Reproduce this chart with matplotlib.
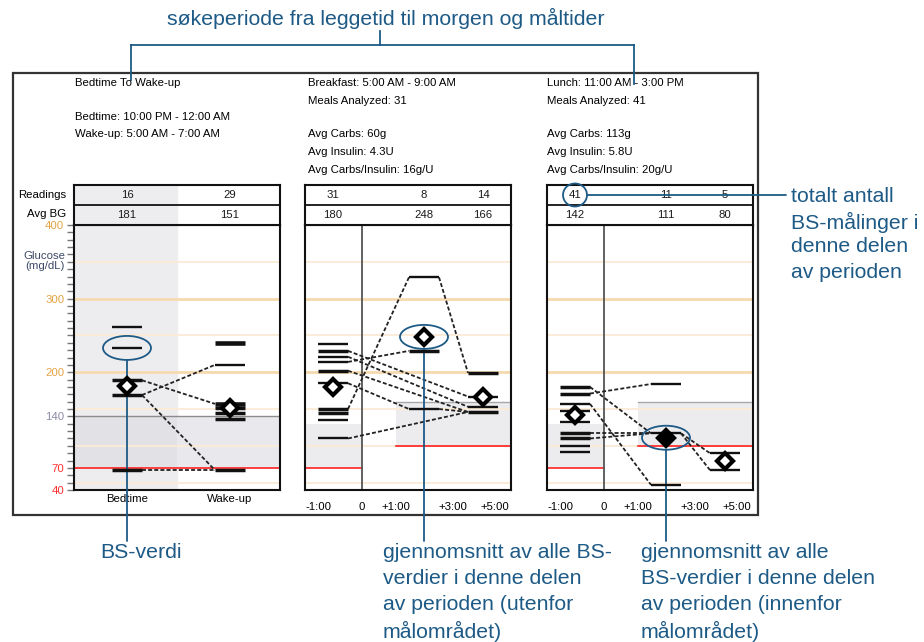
import numpy as np
import matplotlib.pyplot as plt
from matplotlib.patches import Ellipse, Rectangle

plt.rcParams['font.family'] = ['Liberation Sans', 'DejaVu Sans']

W, H = 924, 642
TEAL = '#1d5a86'
SMALL = 8.2

# ---------------- data ----------------
glu_ticks = [40, 70, 140, 200, 300, 400]
glu_tick_colors = ['#ff3030', '#ff3030', '#8a8aa8', '#e3a545', '#e3a545', '#e3a545']

bt_title = 'Bedtime To Wake-up'
bt_head = ['Bedtime: 10:00 PM - 12:00 AM', 'Wake-up: 5:00 AM - 7:00 AM']
bt_cols = ['Bedtime', 'Wake-up']
bt_readings = [16, 29]
bt_avg = [181, 151]
bt_bed = [261, 233, 189, 169, 67]
bt_bed_n = [1, 1, 2, 2, 2]
bt_wake = [240, 210, 157, 151, 145, 136, 67]
bt_wake_n = [3, 1, 3, 2, 2, 2, 2]
bt_links = [(0, 169, 1, 210), (0, 189, 1, 157), (0, 169, 1, 67), (0, 67, 1, 67)]

meal_ticks = ['-1:00', '0', '+1:00', '+3:00', '+5:00']

bk_head = ['Breakfast: 5:00 AM - 9:00 AM', 'Meals Analyzed: 31']
bk_stats = ['Avg Carbs: 60g', 'Avg Insulin: 4.3U', 'Avg Carbs/Insulin: 16g/U']
bk_readings = [31, 8, 14]
bk_avg = [180, 248, 166]
bk_pre = [238, 229, 221, 214, 202, 185, 150, 144, 135, 110]
bk_pre_n = [1, 2, 1, 1, 2, 1, 2, 2, 1, 1]
bk_p1 = [329, 229, 150]
bk_p1_n = [1, 2, 1]
bk_p2 = [199, 167, 153, 146]
bk_p2_n = [2, 1, 1, 2]
bk_links = [(0, 150, 1, 329), (1, 329, 2, 199), (0, 214, 1, 229), (0, 185, 1, 150),
            (1, 150, 2, 146), (0, 229, 2, 167), (0, 221, 2, 153), (0, 202, 2, 146),
            (0, 110, 2, 146)]

ln_head = ['Lunch: 11:00 AM - 3:00 PM', 'Meals Analyzed: 41']
ln_stats = ['Avg Carbs: 113g', 'Avg Insulin: 5.8U', 'Avg Carbs/Insulin: 20g/U']
ln_readings = [41, 11, 5]
ln_avg = [142, 111, 80]
ln_pre = [180, 171, 157, 147, 133, 117, 110, 100, 92]
ln_pre_n = [2, 2, 1, 1, 1, 2, 2, 1, 1]
ln_p1 = [184, 117, 47]
ln_p1_n = [1, 1, 1]
ln_p2 = [90, 67]
ln_p2_n = [1, 1]
ln_links = [(0, 180, 1, 117), (0, 171, 1, 184), (0, 157, 1, 47), (0, 117, 1, 117),
            (0, 110, 1, 117), (1, 117, 2, 90), (1, 117, 2, 67)]

# target ranges (low, high)
bt_target = (70, 140)
pre_target = (70, 130)
post_target = (100, 160)

title_txt = 'søkeperiode fra leggetid til morgen og måltider'
bs_txt = ['BS-verdi']
out_txt = ['gjennomsnitt av alle BS-', 'verdier i denne delen', 'av perioden (utenfor', 'målområdet)']
in_txt = ['gjennomsnitt av alle', 'BS-verdier i denne delen', 'av perioden (innenfor', 'målområdet)']
cnt_txt = ['totalt antall', 'BS-målinger i', 'denne delen', 'av perioden']

# ---------------- layout helpers ----------------
def rect(x0, y0, x1, y1):
    return [x0 / W, 1 - y1 / H, (x1 - x0) / W, (y1 - y0) / H]

PW = 206
lefts = [74, 305, 547]
bt_x = [53, 156]
meal_x = [28, 119, 178]
meal_tick_x = [13, 57, 91, 148, 190]

fig = plt.figure(figsize=(W / 100, H / 100), dpi=100)
ov = fig.add_axes([0, 0, 1, 1])
ov.set_xlim(0, W)
ov.set_ylim(H, 0)
ov.axis('off')

# frame
ov.add_patch(Rectangle((13, 73), 745, 442, fill=False, ec='#333333', lw=1.6))


def grid(ax):
    for v in range(50, 400, 50):
        major = v % 100 == 0 and v >= 200
        ax.axhline(v, color='#f6d9b0' if major else '#fbebd8', lw=2 if major else 1.4, zorder=1)


def zone(ax, xc, vals, ns):
    for v, n in zip(vals, ns):
        ax.plot([xc - 15, xc + 15], [v, v], color='#111111', lw=0.9 + 0.8 * n,
                solid_capstyle='butt', zorder=4)


def links(ax, xs, lst):
    for a, va, b, vb in lst:
        ax.plot([xs[a] + 15, xs[b] - 15], [va, vb], color='#222222', lw=1.3,
                ls=(0, (2.2, 1.2)), zorder=3)


def diamond(ax, xc, v, lo, hi):
    inside = lo <= v <= hi
    ax.plot(xc, v, marker='D', ms=8.5, mfc='black' if inside else 'white',
            mec='black', mew=3, zorder=6)


def style(ax):
    ax.set_xlim(0, PW)
    ax.set_ylim(40, 400)
    for s in ax.spines.values():
        s.set_linewidth(1.5)
        s.set_color('#111111')


def table(left, xs, readings, avgs, shade=None):
    t = fig.add_axes(rect(left, 185, left + PW, 225))
    t.set_xlim(0, PW)
    t.set_ylim(0, 2)
    t.set_xticks([])
    t.set_yticks([])
    for s in t.spines.values():
        s.set_linewidth(1.5)
        s.set_color('#111111')
    if shade is not None:
        t.axvspan(0, shade, color='#ededf0', zorder=0)
    t.axhline(1, color='#111111', lw=1.3)
    for x, r, a in zip(xs, readings, avgs):
        t.text(x, 1.5, str(r), ha='center', va='center', fontsize=SMALL, color='#1a1a1a')
        t.text(x, 0.5, str(a), ha='center', va='center', fontsize=SMALL, color='#1a1a1a')
    return t


# ---------------- panel 1: bedtime ----------------
ax1 = fig.add_axes(rect(lefts[0], 225, lefts[0] + PW, 490))
style(ax1)
ax1.axvspan(0, 103, color='#ededf0', zorder=0)
ax1.fill_between([0, PW], *bt_target, color='#e9e9ed', lw=0, zorder=0.5)
ax1.fill_between([0, 103], *bt_target, color='#e2e2e6', lw=0, zorder=0.6)
grid(ax1)
ax1.axhline(bt_target[1], color='#8c8c8c', lw=1, zorder=2)
ax1.axhline(bt_target[0], color='#ff2020', lw=1.2, zorder=2)
zone(ax1, bt_x[0], bt_bed, bt_bed_n)
zone(ax1, bt_x[1], bt_wake, bt_wake_n)
links(ax1, bt_x, bt_links)
for x, a in zip(bt_x, bt_avg):
    diamond(ax1, x, a, *bt_target)
ax1.set_yticks(glu_ticks)
ax1.set_yticks(range(40, 401, 10), minor=True)
ax1.tick_params(axis='y', which='both', length=5, width=1, color='#777777',
                labelsize=SMALL, pad=2)
for lab, c in zip(ax1.get_yticklabels(), glu_tick_colors):
    lab.set_color(c)
ax1.set_xticks(bt_x, bt_cols)
ax1.tick_params(axis='x', length=0, pad=3, labelsize=SMALL)
t1 = table(lefts[0], bt_x, bt_readings, bt_avg, shade=103)

# ---------------- panels 2 & 3: meals ----------------
def meal_panel(left, pre, pre_n, p1, p1_n, p2, p2_n, lst, readings, avgs):
    ax = fig.add_axes(rect(left, 225, left + PW, 490))
    style(ax)
    ax.fill_between([0, 57], *pre_target, color='#ececef', lw=0, zorder=0.5)
    ax.fill_between([91, PW], *post_target, color='#ececef', lw=0, zorder=0.5)
    grid(ax)
    ax.plot([0, 57], [pre_target[0]] * 2, color='#ff2020', lw=1.2, zorder=2)
    ax.plot([91, PW], [post_target[0]] * 2, color='#ff2020', lw=1.2, zorder=2)
    ax.plot([91, PW], [post_target[1]] * 2, color='#a8a8a8', lw=1, zorder=2)
    ax.axvline(57, color='#555555', lw=1.3, zorder=2)
    zone(ax, meal_x[0], pre, pre_n)
    zone(ax, meal_x[1], p1, p1_n)
    zone(ax, meal_x[2], p2, p2_n)
    links(ax, meal_x, lst)
    targets = [pre_target, post_target, post_target]
    for x, a, tg in zip(meal_x, avgs, targets):
        diamond(ax, x, a, *tg)
    ax.set_yticks([])
    ax.set_xticks(meal_tick_x, meal_ticks)
    ax.tick_params(axis='x', length=0, pad=9, labelsize=SMALL)
    t = table(left, meal_x, readings, avgs)
    return ax, t


ax2, t2 = meal_panel(lefts[1], bk_pre, bk_pre_n, bk_p1, bk_p1_n, bk_p2, bk_p2_n,
                     bk_links, bk_readings, bk_avg)
ax3, t3 = meal_panel(lefts[2], ln_pre, ln_pre_n, ln_p1, ln_p1_n, ln_p2, ln_p2_n,
                     ln_links, ln_readings, ln_avg)

# ---------------- header texts ----------------
ov.text(75, 83, bt_title, fontsize=SMALL, va='center')
for i, s in enumerate(bt_head):
    ov.text(75, 117 + 17 * i, s, fontsize=SMALL, va='center')
for left, head, stats in [(308, bk_head, bk_stats), (547, ln_head, ln_stats)]:
    for i, s in enumerate(head):
        ov.text(left, 83 + 18 * i, s, fontsize=SMALL, va='center')
    for i, s in enumerate(stats):
        ov.text(left, 134 + 18 * i, s, fontsize=SMALL, va='center')
ov.text(66, 195, 'Readings', fontsize=SMALL, ha='right', va='center')
ov.text(66, 214, 'Avg BG', fontsize=SMALL, ha='right', va='center')
ov.text(65, 261, 'Glucose\n(mg/dL)', fontsize=SMALL, ha='right', va='center',
        color='#3d4866', linespacing=1.1)

# ---------------- annotations ----------------
ov.text(386, 18, title_txt, fontsize=15.3, color=TEAL, ha='center', va='center')
ov.plot([380, 380], [31, 45], color=TEAL, lw=1.3)
ov.plot([131, 634], [45, 45], color=TEAL, lw=1.3)
ov.plot([131, 131], [45, 80], color=TEAL, lw=1.3)
ov.plot([634, 634], [45, 84], color=TEAL, lw=1.3)

ell_h = 24 / 265 * 360
for ax, xc, v in [(ax1, bt_x[0], bt_bed[1]), (ax2, meal_x[1], bk_avg[1]), (ax3, meal_x[1], ln_avg[1])]:
    ax.add_patch(Ellipse((xc, v), 48, ell_h, fill=False, ec=TEAL, lw=1.3,
                         clip_on=False, zorder=10))
    ax.annotate('', xy=(xc, v - ell_h / 2), xycoords='data',
                xytext=(xc, 1 - 541 / H), textcoords=('data', 'figure fraction'),
                arrowprops=dict(arrowstyle='-', color=TEAL, lw=1.3, shrinkA=0, shrinkB=0),
                annotation_clip=False)

# count circle
t3.add_patch(Ellipse((meal_x[0], 1.5), 24, 1.15, fill=False, ec=TEAL, lw=1.3,
                     clip_on=False, zorder=10))
t3.annotate('', xy=(meal_x[0] + 12, 1.5), xycoords='data',
            xytext=(786 / W, 1.5), textcoords=('figure fraction', 'data'),
            arrowprops=dict(arrowstyle='-', color=TEAL, lw=1.3, shrinkA=0, shrinkB=0),
            annotation_clip=False)

for x, y0, lines, dy in [(100, 553, bs_txt, 26), (383, 553, out_txt, 26),
                         (641, 553, in_txt, 26), (791, 197, cnt_txt, 25)]:
    for i, s in enumerate(lines):
        ov.text(x, y0 + dy * i, s, fontsize=15.3, color=TEAL, va='center')

fig.savefig('out.png', dpi=100)
